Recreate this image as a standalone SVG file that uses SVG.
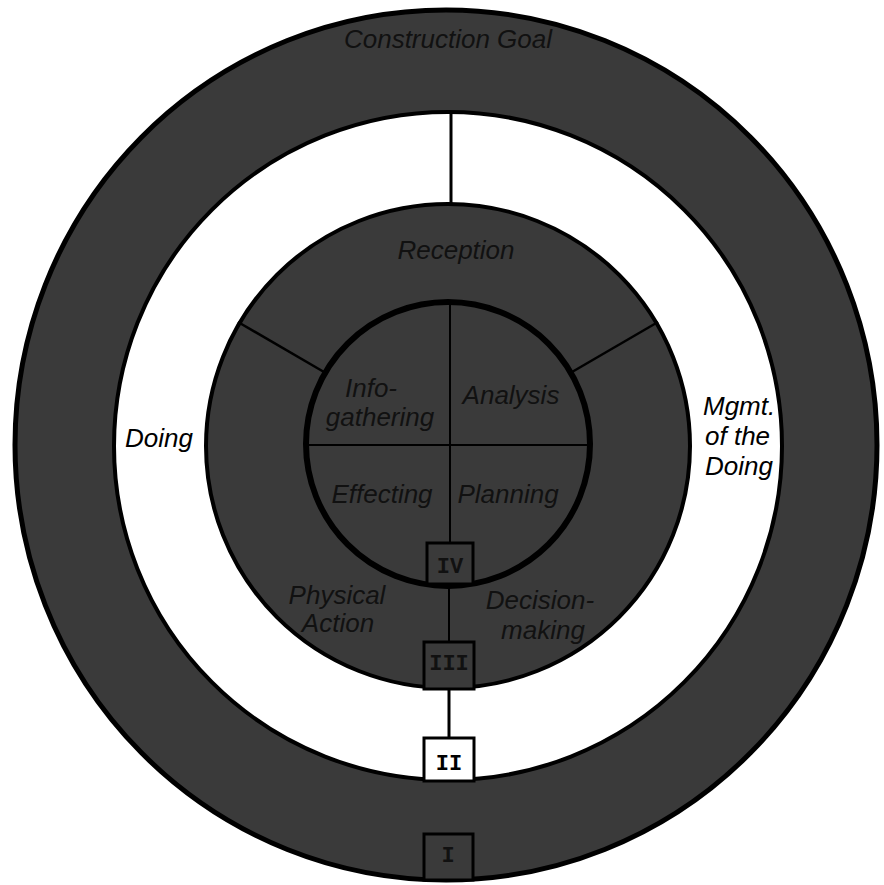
<svg xmlns="http://www.w3.org/2000/svg" width="884" height="885" viewBox="0 0 884 885">
  <style>
    .dark { fill: #3a3a3a; stroke: #000; }
    .lbl { font-family: "Liberation Sans", Arial, sans-serif; font-style: italic; font-size: 26px; text-anchor: middle; }
    .lblw { fill: #000; }
    .lbld { fill: #111; }
    .num { font-family: "Liberation Mono", "Courier New", monospace; font-weight: bold; font-size: 22px; text-anchor: middle; }
    .conn { stroke: #000; fill: none; }
    .box { stroke: #000; stroke-width: 3; }
  </style>
  <rect width="884" height="885" fill="#fff"/>

  <g id="construction-goal">
    <ellipse class="dark" cx="446" cy="445" rx="431" ry="435" stroke-width="5"/>
    <text class="lbl lbld" x="448" y="48">Construction Goal</text>
  </g>

  <g id="doing-band">
    <circle cx="448" cy="446" r="334" fill="#fff" stroke="#000" stroke-width="4"/>
    <text class="lbl lblw" x="159" y="447">Doing</text>
  </g>

  <g id="mgmt-of-the-doing">
    <text class="lbl lblw" x="703" y="415" style="text-anchor:start">Mgmt.</text>
    <text class="lbl lblw" x="705" y="445" style="text-anchor:start">of the</text>
    <text class="lbl lblw" x="705" y="475" style="text-anchor:start">Doing</text>
  </g>

  <g id="inner-disk">
    <circle class="dark" cx="448" cy="446" r="242" stroke-width="4"/>
  </g>

  <g id="reception">
    <text class="lbl lbld" x="456" y="259">Reception</text>
  </g>

  <g id="inner-circle">
    <circle cx="448" cy="444" r="142" fill="none" stroke="#000" stroke-width="6"/>
  </g>

  <g id="connectors">
    <line class="conn" x1="451" y1="112" x2="451" y2="204" stroke-width="3"/>
    <line class="conn" x1="450" y1="302" x2="450" y2="543" stroke-width="2"/>
    <line class="conn" x1="305" y1="445" x2="591" y2="445" stroke-width="2"/>
    <line class="conn" x1="324" y1="372" x2="238" y2="322" stroke-width="2.5"/>
    <line class="conn" x1="572" y1="372" x2="658" y2="322" stroke-width="2.5"/>
    <line class="conn" x1="449" y1="588" x2="449" y2="642" stroke-width="2"/>
    <line class="conn" x1="449" y1="688" x2="449" y2="738" stroke-width="3"/>
  </g>

  <g id="info-gathering">
    <text class="lbl lbld" x="371" y="397">Info-</text>
    <text class="lbl lbld" x="380" y="426">gathering</text>
  </g>
  <g id="analysis">
    <text class="lbl lbld" x="511" y="404">Analysis</text>
  </g>
  <g id="effecting">
    <text class="lbl lbld" x="382" y="503">Effecting</text>
  </g>
  <g id="planning">
    <text class="lbl lbld" x="508" y="503">Planning</text>
  </g>
  <g id="physical-action">
    <text class="lbl lbld" x="337" y="604">Physical</text>
    <text class="lbl lbld" x="338" y="632">Action</text>
  </g>
  <g id="decision-making">
    <text class="lbl lbld" x="540" y="609">Decision-</text>
    <text class="lbl lbld" x="543" y="639">making</text>
  </g>

  <g id="box-IV">
    <rect class="box" x="427" y="543" width="46" height="41" fill="#3a3a3a"/>
    <text class="num" x="450" y="573" fill="#111">IV</text>
  </g>
  <g id="box-III">
    <rect class="box" x="424" y="642" width="50" height="47" fill="#3a3a3a"/>
    <text class="num" x="449" y="670" fill="#111">III</text>
  </g>
  <g id="box-II">
    <rect class="box" x="424" y="738" width="50" height="43" fill="#fff"/>
    <text class="num" x="449" y="770" fill="#000">II</text>
  </g>
  <g id="box-I">
    <rect class="box" x="424" y="834" width="49" height="46" fill="#3a3a3a"/>
    <text class="num" x="448" y="862" fill="#111">I</text>
  </g>
</svg>
